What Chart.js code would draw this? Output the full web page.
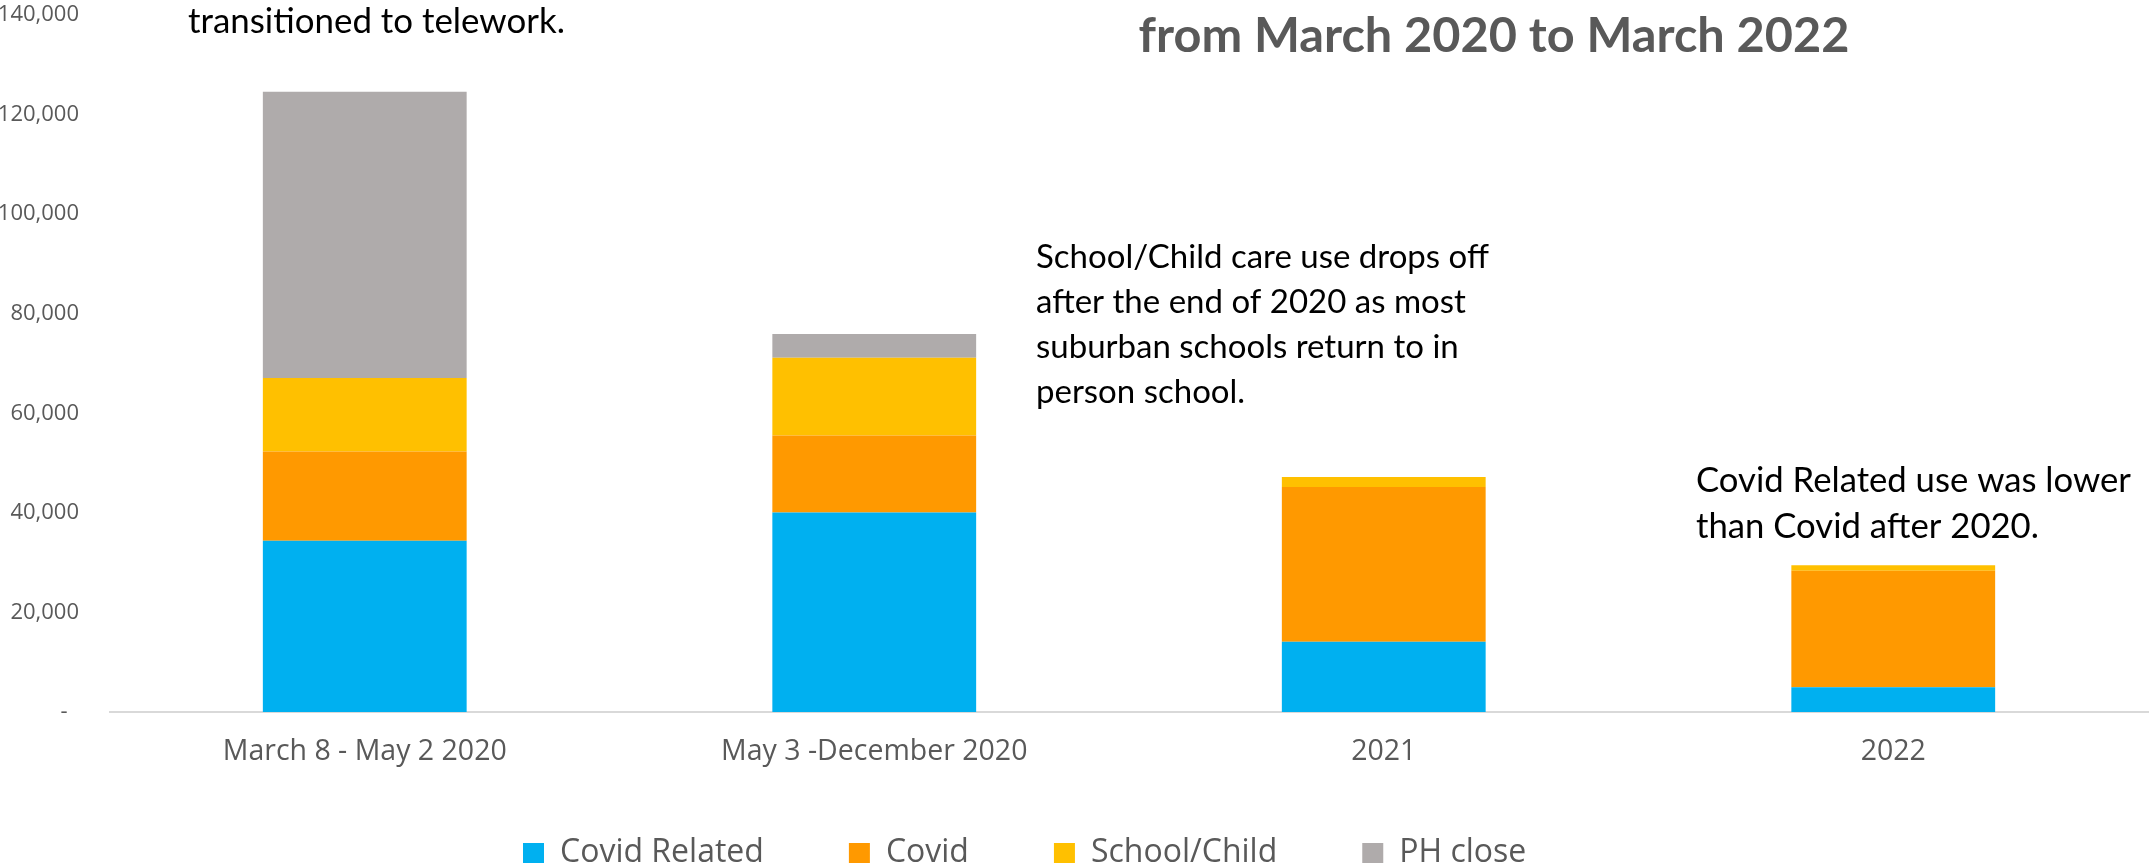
<!DOCTYPE html>
<html>
<head>
<meta charset="utf-8">
<script src="https://cdn.jsdelivr.net/npm/chart.js@4.4.1/dist/chart.umd.min.js"></script>
<style>
html,body{margin:0;padding:0;background:#ffffff;overflow:hidden;}
#wrap{position:relative;width:2151px;height:899px;}
</style>
</head>
<body>
<div id="wrap"><canvas id="c" width="2151" height="899"></canvas></div>
<script>
// ---- data ----
const categories = ['March 8 - May 2 2020', 'May 3 -December 2020', '2021', '2022'];
const seriesNames = ['Covid Related', 'Covid', 'School/Child', 'PH close'];
const covidRelated = [34400, 40050, 14100, 4950];
const covid = [17900, 15500, 31100, 23400];
const schoolChild = [14800, 15600, 2000, 1150];
const phClose = [57500, 4800, 0, 0];
const yTicks = [0, 20000, 40000, 60000, 80000, 100000, 120000, 140000];
const titleText = 'from March 2020 to March 2022';
const note1 = ['transitioned to telework.'];
const note2 = ['School/Child care use drops off', 'after the end of 2020 as most', 'suburban schools return to in', 'person school.'];
const note3 = ['Covid Related use was lower', 'than Covid after 2020.'];

// ---- styles ----
const colors = ['#00B0F0', '#FF9900', '#FFC000', '#AFABAB'];
const GREY = '#595959';

function fitSize(ctx, text, font, weight, target) {
  ctx.font = weight + ' 100px ' + font;
  return 100 * target / ctx.measureText(text).width;
}

const textPlugin = {
  id: 'notes',
  afterLayout(chart) {
    const lg = chart.legend;
    if (!lg || !lg.lineWidths) return;
    const pad = lg.options.labels.padding;
    const start = (lg.left + pad + lg.right - lg.lineWidths[0]) / 2;
    const shift = start - 523;
    lg.left -= shift; lg.right -= shift;
    const h = lg.bottom - lg.top;
    lg.top = 853 - 16 - pad;
    lg.bottom = lg.top + h;
  },
  afterDraw(chart) {
    const ctx = chart.ctx;
    ctx.save();
    ctx.fillStyle = '#000000';
    ctx.textAlign = 'left';
    ctx.textBaseline = 'alphabetic';
    const drawNote = (lines, x, y, lh, target) => {
      const size = fitSize(ctx, lines[0], 'Lato', 'normal', target);
      ctx.font = 'normal ' + size.toFixed(2) + 'px Lato';
      lines.forEach((t, i) => ctx.fillText(t, x, y + i * lh));
    };
    drawNote(note1, 188, 33, 45, 377);
    drawNote(note2, 1036, 268, 45, 453);
    drawNote(note3, 1696, 492, 46, 435);
    const tSize = fitSize(ctx, titleText, 'Lato', 'bold', 711);
    ctx.font = 'bold ' + tSize.toFixed(2) + 'px Lato';
    ctx.fillStyle = GREY;
    ctx.textAlign = 'center';
    ctx.fillText(titleText, 1494, 52);
    ctx.restore();
  }
};

const datasets = [covidRelated, covid, schoolChild, phClose].map((d, i) => ({
  label: seriesNames[i],
  data: d,
  backgroundColor: colors[i],
  borderWidth: 0,
  barPercentage: 0.4,
  categoryPercentage: 1.0,
  stack: 's'
}));

new Chart(document.getElementById('c'), {
  type: 'bar',
  data: { labels: categories, datasets },
  plugins: [textPlugin],
  options: {
    responsive: false,
    devicePixelRatio: 1,
    animation: false,
    layout: { padding: { left: 0, right: 3, top: 0, bottom: 0 } },
    plugins: {
      title: { display: false },
      tooltip: { enabled: false },
      legend: {
        position: 'bottom',
        labels: {
          font: { family: 'Open Sans', size: 32 },
          color: GREY,
          boxWidth: 21,
          boxHeight: 20,
          padding: 85
        }
      }
    },
    scales: {
      x: {
        stacked: true,
        grid: { display: true, drawOnChartArea: false, drawTicks: false, color: 'rgba(0,0,0,0)' },
        border: { display: true, color: '#D9D9D9', width: 2 },
        ticks: { font: { family: 'Open Sans', size: 28.5 }, color: GREY, padding: 23, maxRotation: 0, autoSkip: false },
        afterFit(s) { s.height = 60; }
      },
      y: {
        stacked: true,
        min: 0,
        max: 140000,
        afterBuildTicks(s) { s.ticks = yTicks.map(v => ({ value: v })); },
        grid: { display: false, drawTicks: false },
        border: { display: false },
        ticks: {
          font: { family: 'Open Sans', size: 22 },
          color: GREY,
          padding: 31,
          callback: v => v === 0 ? '-  ' : Number(v).toLocaleString('en-US')
        },
        afterFit(s) { s.width = 110; s.paddingTop = 15; s.paddingBottom = 0; }
      }
    }
  }
});
</script>
</body>
</html>
